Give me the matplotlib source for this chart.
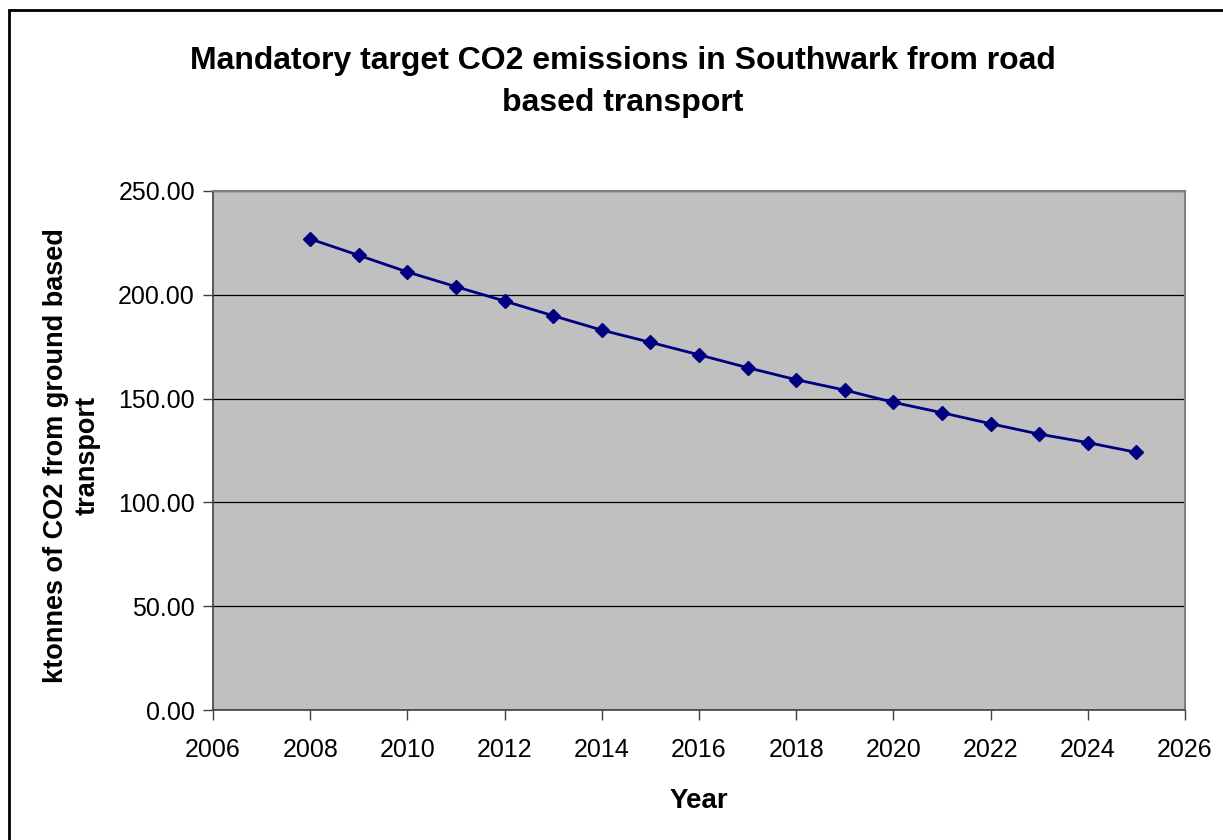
import matplotlib
matplotlib.use("Agg")
import matplotlib.pyplot as plt
from matplotlib.patches import Rectangle

plt.rcParams['font.family'] = ['Liberation Sans', 'DejaVu Sans']

years = [2008, 2009, 2010, 2011, 2012, 2013, 2014, 2015, 2016,
         2017, 2018, 2019, 2020, 2021, 2022, 2023, 2024, 2025]
emissions = [226.9, 219.0, 211.0, 203.9, 197.0, 189.9, 183.0, 177.1, 171.1,
             164.9, 159.1, 154.1, 148.2, 143.2, 137.9, 132.9, 128.8, 124.1]
x_ticks = list(range(2006, 2027, 2))
y_ticks = [0, 50, 100, 150, 200, 250]

fig = plt.figure(figsize=(12.23, 8.40), dpi=100)
fig.patch.set_facecolor('white')

# outer chart border
fig.patches.append(Rectangle((9 / 1223, -0.05), 1.2, 1 - 10 / 840 + 0.05,
                             transform=fig.transFigure, fill=False,
                             edgecolor='black', linewidth=2, zorder=0))

ax = fig.add_axes([213 / 1223, 1 - 710 / 840, (1185 - 213) / 1223, (710 - 191) / 840])
ax.set_facecolor('#C0C0C0')

ax.plot(years, emissions, color='#000080', linewidth=2, marker='D',
        markersize=7.5, markerfacecolor='#000080', markeredgecolor='#000080',
        zorder=3)

ax.set_xlim(2006, 2026)
ax.set_ylim(0, 250)
ax.set_xticks(x_ticks)
ax.set_yticks(y_ticks)
ax.set_yticklabels([f"{v:.2f}" for v in y_ticks])
ax.tick_params(axis='both', labelsize=18, direction='out', length=7,
               width=1, color='#404040', pad=6)
ax.tick_params(axis='x', pad=13)

ax.grid(axis='y', color='black', linewidth=0.9)
ax.set_axisbelow(True)

for side in ['left', 'bottom']:
    ax.spines[side].set_color('#404040')
    ax.spines[side].set_linewidth(1.2)
for side in ['top', 'right']:
    ax.spines[side].set_color('#808080')
    ax.spines[side].set_linewidth(1.5)

ax.set_xlabel('Year', fontsize=20, fontweight='bold', labelpad=19)
ax.set_ylabel('ktonnes of CO2 from ground based\ntransport', fontsize=19.5,
              fontweight='bold', linespacing=1.3)
ax.yaxis.set_label_coords((101 - 213) / 972, 0.49)

fig.text(623 / 1223, 1 - 82 / 840,
         'Mandatory target CO2 emissions in Southwark from road\nbased transport',
         ha='center', va='center', fontsize=23, fontweight='bold',
         linespacing=1.5)

fig.savefig('out.png', dpi=100)
